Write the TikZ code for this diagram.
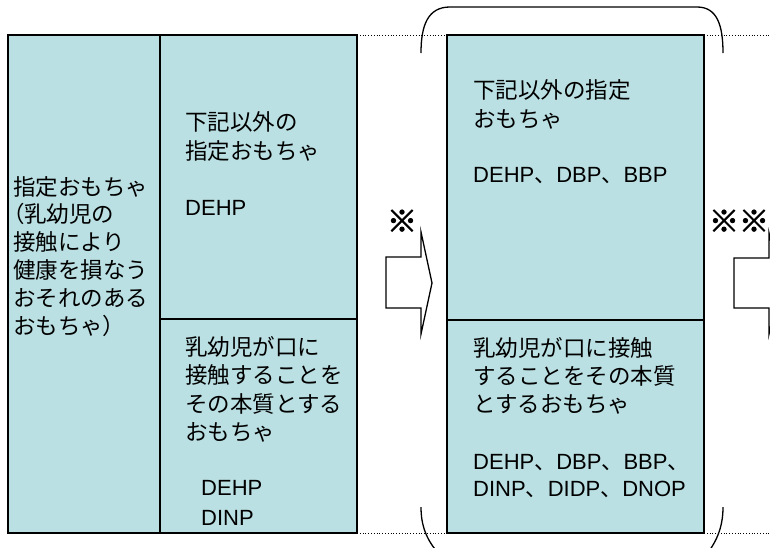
\documentclass[tikz,border=0pt]{standalone}
\usepackage{fontspec}
\setmainfont{Liberation Sans}
\newfontfamily\jp{Noto Sans CJK JP}
\newfontfamily\jpp[RawFeature=+palt]{Noto Sans CJK JP}
\newfontfamily\jpfb[FakeBold=2.5]{Noto Sans CJK JP}
\definecolor{cellblue}{RGB}{187,224,227}
\tikzset{
  cell/.style={fill=cellblue},
  frame/.style={draw=black, line width=1.3pt},
  jtxt/.style={anchor=base west, inner sep=0pt, font=\jp\fontsize{22.5}{28}\selectfont},
  ltxt/.style={anchor=base west, inner sep=0pt, font=\fontsize{22}{28}\selectfont},
  notemark/.style={anchor=base, inner sep=0pt, font=\jpfb\fontsize{30}{34}\selectfont},
  dotline/.style={dotted, line width=0.8pt},
  bracket/.style={line width=1.3pt},
  blockarrow/.style={draw=black, fill=white, line width=1.3pt, line join=miter}
}
\newcommand{\ten}{{\jp 、}}
\begin{document}
\begin{tikzpicture}[x=1pt,y=-1pt]
\useasboundingbox (0,0) rectangle (770,547);
\clip (0,0) rectangle (770,547);
% corners
\coordinate (Ltl) at (8,35);
\coordinate (Lbr) at (357,533);
\coordinate (Ltr) at (357,35);
\coordinate (Rtl) at (447,35);
\coordinate (Rbr) at (704,533);
\coordinate (Rtr) at (704,35);
\coordinate (Rbl) at (447,533);
\coordinate (Edgetop) at (770,35);
\coordinate (Edgebot) at (770,533);
% fills
\fill[cell] (Ltl) rectangle (Lbr);
\fill[cell] (Rtl) rectangle (Rbr);
% frames
\draw[frame] (Ltl) rectangle (Lbr);
\draw[frame] (160,35) -- (160,533);
\draw[frame] (160,319) -- (357,319);
\draw[frame] (Rtl) rectangle (Rbr);
\draw[frame] (447,320) -- (704,320);
% dotted lines
\draw[dotline] (Ltr) -- (Rtl);
\draw[dotline] (Lbr) -- (Rbl);
\draw[dotline] (Rtr) -- (Edgetop);
\draw[dotline] (Rbr) -- (Edgebot);
% brackets
\draw[bracket] (421,53) .. controls (421,25) and (428,7) .. (450,7) -- (697,7) .. controls (717,7) and (723,25) .. (723,53);
\draw[bracket] (421,507) .. controls (421,525) and (426,540) .. (440,555);
\draw[bracket] (723,507) .. controls (723,525) and (718,540) .. (706,555);
% block arrows
\draw[blockarrow] (386,257) -- (421,257) -- (421,232) -- (432,283) -- (421,334) -- (421,308) -- (386,308) -- cycle;
\draw[blockarrow] (734,258) -- (769,258) -- (769,233) -- (780,283) -- (769,334) -- (769,308) -- (734,308) -- cycle;
\node[notemark] (m1) at (402,232) {※};
\node[notemark] (m2) at (739,232) {※※};
% left column
\node[jtxt] (a1) at (13,195) {指定おもちゃ};
\node[jtxt] (a2) at (13,222.8) {{\jpp （}乳幼児の};
\node[jtxt] (a3) at (13,250.6) {接触により};
\node[jtxt] (a4) at (13,278.4) {健康を損なう};
\node[jtxt] (a5) at (13,306.2) {おそれのある};
\node[jtxt] (a6) at (13,334) {おもちゃ{\jpp ）}};
% middle top
\node[jtxt] (b1) at (185,130.5) {下記以外の};
\node[jtxt] (b2) at (185,159) {指定おもちゃ};
\node[ltxt] (b3) at (185,215.7) {DEHP};
% middle bottom
\node[jtxt] (c1) at (185,355.5) {乳幼児が口に};
\node[jtxt] (c2) at (185,383.8) {接触することを};
\node[jtxt] (c3) at (185,412) {その本質とする};
\node[jtxt] (c4) at (185,440.5) {おもちゃ};
\node[ltxt] (c5) at (201,495.5) {DEHP};
\node[ltxt] (c6) at (201,525.5) {DINP};
% right top
\node[jtxt] (d1) at (473,98) {下記以外の指定};
\node[jtxt] (d2) at (473,127) {おもちゃ};
\node[ltxt] (d3) at (473,182.5) {DEHP\ten DBP\ten BBP};
% right bottom
\node[jtxt] (e1) at (473,356) {乳幼児が口に接触};
\node[jtxt] (e2) at (473,384) {することをその本質};
\node[jtxt] (e3) at (473,412) {とするおもちゃ};
\node[ltxt] (e4) at (473,469.5) {DEHP\ten DBP\ten BBP\ten};
\node[ltxt] (e5) at (473,496) {DINP\ten DIDP\ten DNOP};
\end{tikzpicture}
\end{document}
